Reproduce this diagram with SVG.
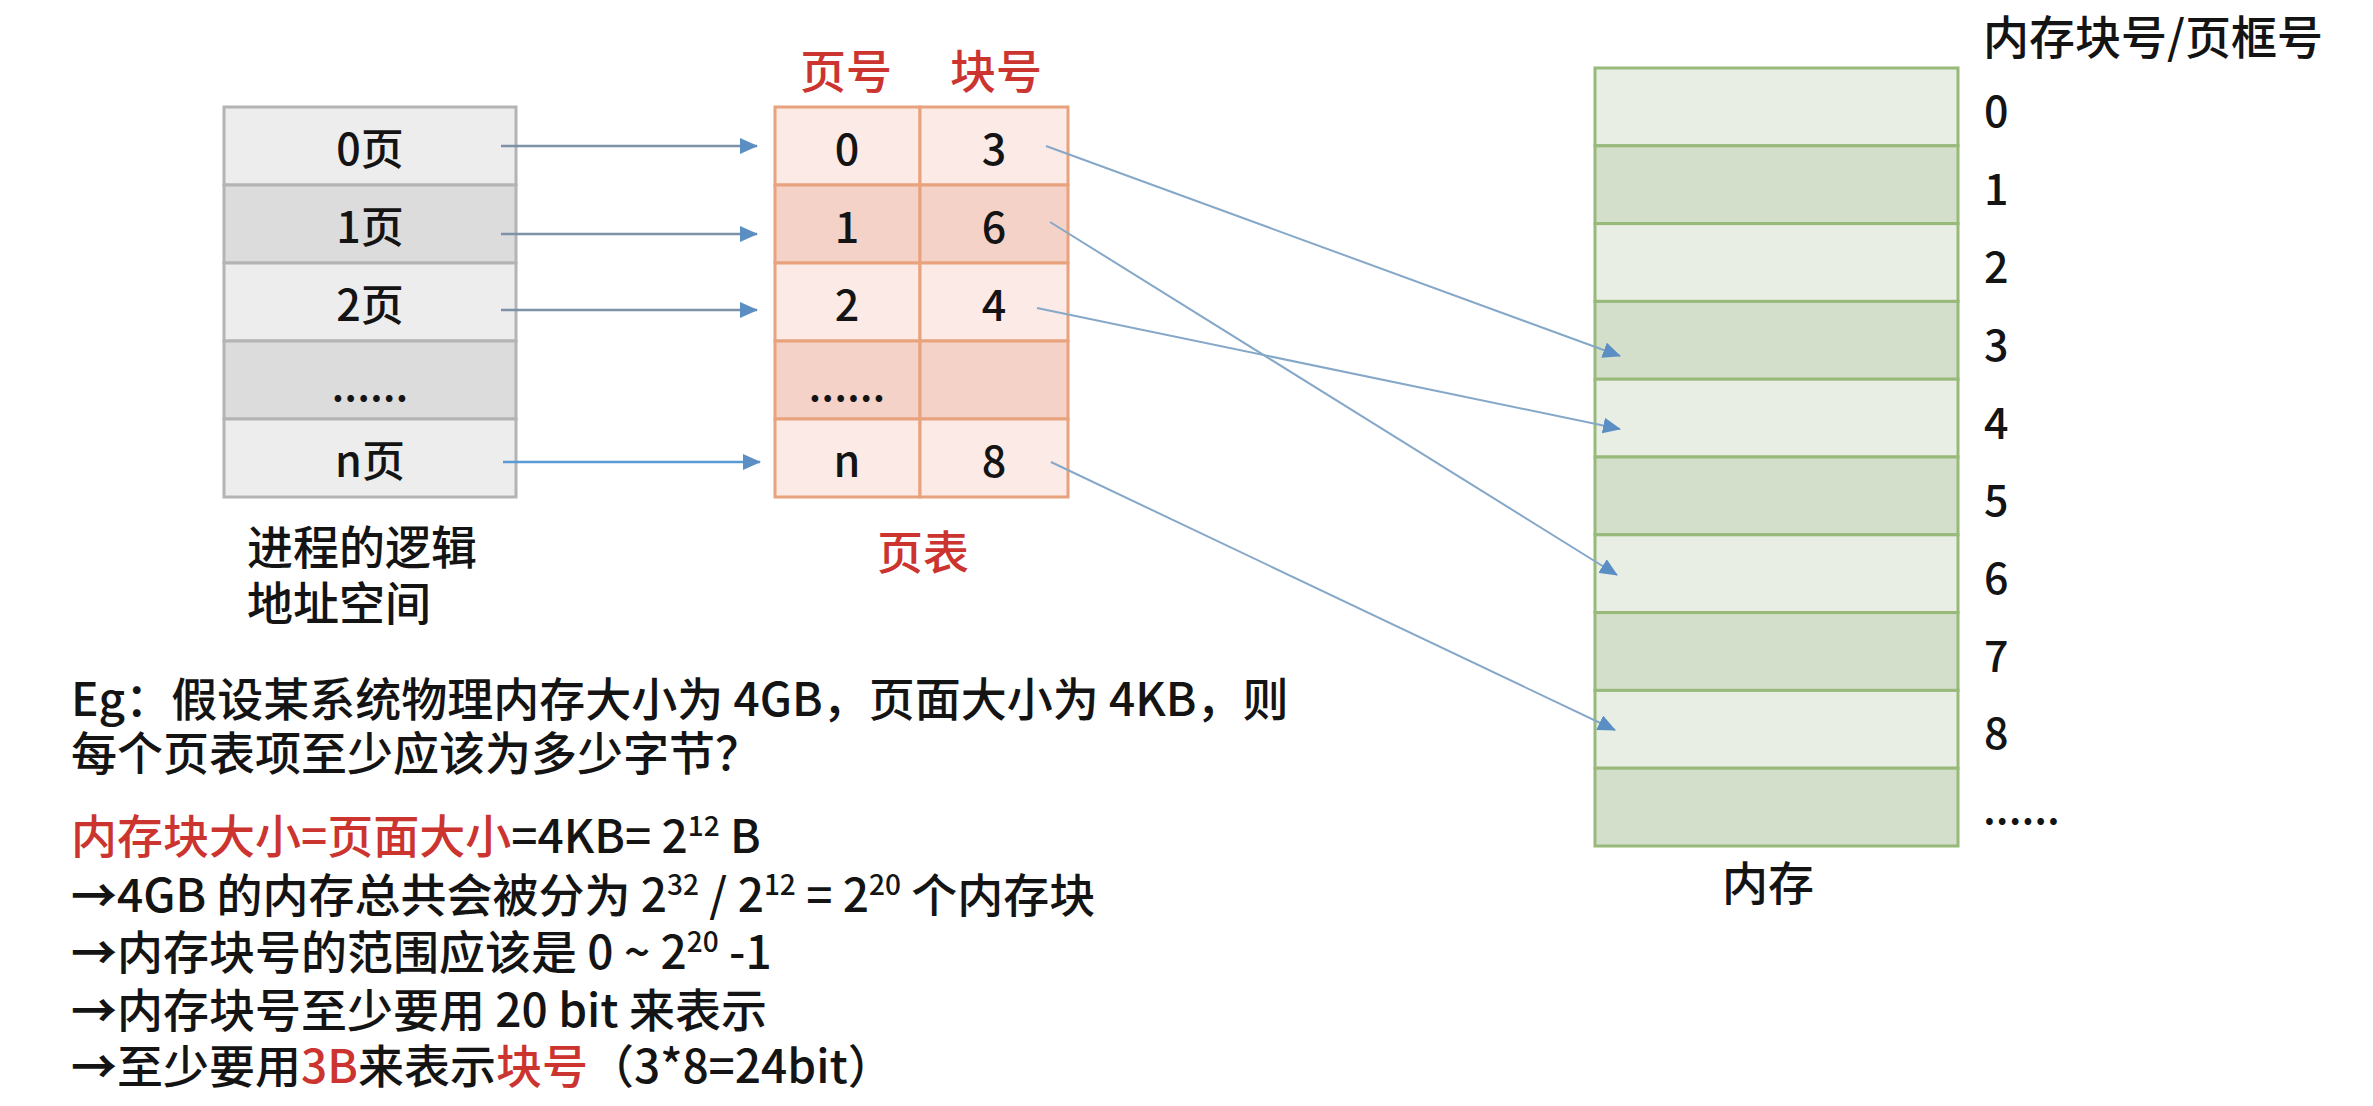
<svg xmlns="http://www.w3.org/2000/svg" width="2373" height="1106" viewBox="0 0 2373 1106">
<style>
text{font-family:"Noto Sans CJK SC","Noto Sans",sans-serif;fill:#141414;font-weight:500}
.red{fill:#cc3430}
.arr{font-weight:bold}
.cell{font-size:43px;text-anchor:middle;dominant-baseline:central}
.hdr{font-size:46px;text-anchor:middle;dominant-baseline:central}
.lbl{font-size:46px}
.num{font-size:43px;dominant-baseline:central}
.body{font-size:46px}
.lg{fill:#ededed;stroke:#b4b4b4;stroke-width:3}
.dg{fill:#dcdcdc;stroke:#b4b4b4;stroke-width:3}
.lp{fill:#fbeae6;stroke:#e8a27d;stroke-width:3}
.dp{fill:#f4d2c8;stroke:#e8a27d;stroke-width:3}
.lm{fill:#e9eee5;stroke:#97b97a;stroke-width:3}
.dm{fill:#d4dfcb;stroke:#97b97a;stroke-width:3}
.c1{stroke:#7d91a7;stroke-width:2.5;fill:none}
.c2{stroke:#5b9bd5;stroke-width:2.5;fill:none}
.c3{stroke:#86a8c8;stroke-width:2;fill:none}
</style>
<defs>
<marker id="ah2" viewBox="0 0 18 16" refX="17" refY="8" markerWidth="18" markerHeight="16" markerUnits="userSpaceOnUse" orient="auto">
<path d="M0,0 L18,8 L0,16 z" fill="#5b8fc4"/>
</marker>
</defs>

<g id="logical-space">
<rect class="lg" x="224" y="107" width="292" height="78"/>
<rect class="dg" x="224" y="185" width="292" height="78"/>
<rect class="lg" x="224" y="263" width="292" height="78"/>
<rect class="dg" x="224" y="341" width="292" height="78"/>
<rect class="lg" x="224" y="419" width="292" height="78"/>
<text class="cell" x="370" y="146">0页</text>
<text class="cell" x="370" y="224">1页</text>
<text class="cell" x="370" y="302">2页</text>
<text class="cell" x="370" y="382">......</text>
<text class="cell" x="370" y="458">n页</text>
<text class="lbl" x="247" y="564">进程的逻辑</text>
<text class="lbl" x="247" y="620">地址空间</text>
</g>

<g id="page-table">
<rect class="lp" x="775" y="107" width="145" height="78"/>
<rect class="lp" x="920" y="107" width="148" height="78"/>
<rect class="dp" x="775" y="185" width="145" height="78"/>
<rect class="dp" x="920" y="185" width="148" height="78"/>
<rect class="lp" x="775" y="263" width="145" height="78"/>
<rect class="lp" x="920" y="263" width="148" height="78"/>
<rect class="dp" x="775" y="341" width="145" height="78"/>
<rect class="dp" x="920" y="341" width="148" height="78"/>
<rect class="lp" x="775" y="419" width="145" height="78"/>
<rect class="lp" x="920" y="419" width="148" height="78"/>
<text class="hdr red" x="846" y="68">页号</text>
<text class="hdr red" x="996" y="68">块号</text>
<text class="cell" x="847" y="146">0</text>
<text class="cell" x="994" y="146">3</text>
<text class="cell" x="847" y="224">1</text>
<text class="cell" x="994" y="224">6</text>
<text class="cell" x="847" y="302">2</text>
<text class="cell" x="994" y="302">4</text>
<text class="cell" x="847" y="382">......</text>
<text class="cell" x="847" y="458">n</text>
<text class="cell" x="994" y="458">8</text>
<text class="hdr red" x="923" y="549">页表</text>
</g>

<g id="memory">
<rect class="lm" x="1595" y="68" width="363" height="77.8"/>
<rect class="dm" x="1595" y="145.8" width="363" height="77.8"/>
<rect class="lm" x="1595" y="223.6" width="363" height="77.8"/>
<rect class="dm" x="1595" y="301.4" width="363" height="77.8"/>
<rect class="lm" x="1595" y="379.2" width="363" height="77.8"/>
<rect class="dm" x="1595" y="457" width="363" height="77.8"/>
<rect class="lm" x="1595" y="534.8" width="363" height="77.8"/>
<rect class="dm" x="1595" y="612.6" width="363" height="77.8"/>
<rect class="lm" x="1595" y="690.4" width="363" height="77.8"/>
<rect class="dm" x="1595" y="768.2" width="363" height="77.8"/>
<text class="lbl" x="1983" y="54">内存块号/页框号</text>
<text class="num" x="1984" y="108">0</text>
<text class="num" x="1984" y="186">1</text>
<text class="num" x="1984" y="264">2</text>
<text class="num" x="1984" y="342">3</text>
<text class="num" x="1984" y="420">4</text>
<text class="num" x="1984" y="497">5</text>
<text class="num" x="1984" y="575">6</text>
<text class="num" x="1984" y="653">7</text>
<text class="num" x="1984" y="730">8</text>
<text x="1983" y="824" style="font-size:43px">......</text>
<text class="lbl" x="1768" y="900" text-anchor="middle">内存</text>
</g>

<g id="connectors">
<line class="c1" x1="501" y1="146" x2="757" y2="146" marker-end="url(#ah2)"/>
<line class="c1" x1="501" y1="234" x2="757" y2="234" marker-end="url(#ah2)"/>
<line class="c1" x1="501" y1="310" x2="757" y2="310" marker-end="url(#ah2)"/>
<line class="c2" x1="503" y1="462" x2="760" y2="462" marker-end="url(#ah2)"/>
<line class="c3" x1="1046" y1="146" x2="1620" y2="356" marker-end="url(#ah2)"/>
<line class="c3" x1="1050" y1="222" x2="1617" y2="575" marker-end="url(#ah2)"/>
<line class="c3" x1="1037" y1="308" x2="1620" y2="429" marker-end="url(#ah2)"/>
<line class="c3" x1="1051" y1="462" x2="1615" y2="730" marker-end="url(#ah2)"/>
</g>

<g id="example-text">
<text class="body" x="71" y="716">Eg：假设某系统物理内存大小为 4GB，页面大小为 4KB，则</text>
<text class="body" x="71" y="770">每个页表项至少应该为多少字节？</text>
<text class="body" x="71" y="853"><tspan class="red">内存块大小=页面大小</tspan>=4KB= 2<tspan font-size="28" dy="-17">12</tspan><tspan dy="17"> B</tspan></text>
<text class="body" x="71" y="912"><tspan class="arr">→</tspan>4GB 的内存总共会被分为 2<tspan font-size="28" dy="-17">32</tspan><tspan dy="17"> / 2</tspan><tspan font-size="28" dy="-17">12</tspan><tspan dy="17"> = 2</tspan><tspan font-size="28" dy="-17">20</tspan><tspan dy="17"> 个内存块</tspan></text>
<text class="body" x="71" y="969"><tspan class="arr">→</tspan>内存块号的范围应该是 0 ~ 2<tspan font-size="28" dy="-17">20</tspan><tspan dy="17"> -1</tspan></text>
<text class="body" x="71" y="1027"><tspan class="arr">→</tspan>内存块号至少要用 20 bit 来表示</text>
<text class="body" x="71" y="1083"><tspan class="arr">→</tspan>至少要用<tspan class="red">3B</tspan>来表示<tspan class="red">块号</tspan>（3*8=24bit）</text>
</g>
</svg>
